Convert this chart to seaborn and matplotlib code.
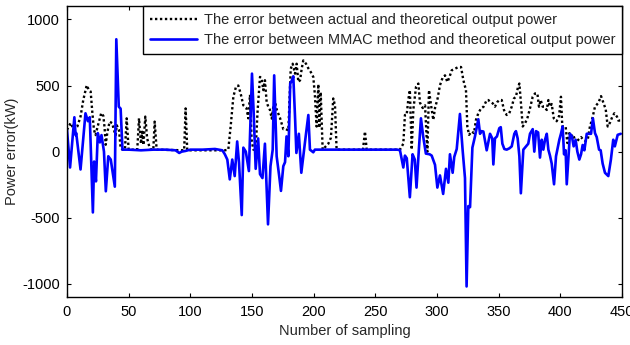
import matplotlib
matplotlib.use("Agg")
import matplotlib.pyplot as plt
import seaborn as sns
import numpy as np

# error between actual and theoretical output power (dotted black)
actual_x = [0, 3, 5.5, 8.4, 11, 13.2, 16, 17.8, 19.2, 20.6, 21.9, 23.2, 24.6, 25.9, 27.8,
            29.5, 30.5, 31.4, 32.8, 34.6, 36.7, 38, 39.5, 40.3, 42.2, 43.5, 45, 47, 48.4,
            50, 57, 58.4, 60, 61, 62, 63.5, 65, 66.7, 68, 70, 71.1, 72.7, 95, 96.2, 97.5,
            128, 130.8, 132.7, 134.9, 137, 138.9, 140.8, 143, 145.5, 147, 148.4, 149.7,
            151.1, 153, 154.5, 156.5, 157.8, 159.2, 160.5, 161.9, 163.2, 164.6, 166,
            167.3, 168.6, 170, 172.7, 175.4, 177.6, 179.5, 181.4, 183, 184.9, 186.2,
            187.6, 189, 190.3, 191.6, 193.8, 195.7, 197.8, 199.7, 201, 202.4, 203.8,
            204.6, 205.7, 207.3, 211.9, 214, 215.9, 217.3, 218.6, 240, 241.6, 243, 270,
            272.7, 274, 275.4, 276.7, 278, 279.5, 280.8, 283, 284.9, 286.2, 288.4, 290.3,
            292.2, 293.5, 294.9, 297, 298.4, 300.5, 302.4, 304.6, 306.5, 308.4, 310,
            311.9, 314.6, 317.3, 319.5, 321.4, 323.5, 324.6, 326, 328.1, 330, 331.6,
            333.5, 335.7, 337.8, 340.3, 341.6, 343.5, 345.2, 347, 348.9, 350.5, 352.5,
            354.3, 356.5, 358.6, 360.6, 362.4, 364, 365.4, 366.8, 367.8, 369.5, 371.4,
            373.2, 375.4, 377.6, 379.5, 381.4, 382.7, 384.1, 385.7, 386.9, 389, 390.3,
            391.6, 393, 394.7, 397, 399, 400.5, 401.6, 403, 404.3, 405.7, 407.3, 408.6,
            410.5, 412.4, 414.6, 416.8, 418.6, 420.5, 422.2, 424, 425.9, 428.1, 430.9,
            433, 434.9, 436.8, 438.4, 440.3, 442.2, 443.8, 445.9, 447, 448.5]
actual_y = [165, 217, 165, 190, 265, 390, 502, 465, 455, 292, 165, 125, 180, 225, 292,
            270, 180, 52, 150, 227, 215, 165, 125, 200, 165, 27, 15, 15, 252,
            15, 15, 252, 60, 150, 50, 265, 100, 40, 15, 15, 227, 15, 10, 327, 10,
            10, 15, 190, 415, 490, 500, 440, 350, 330, 252, 430, 90,
            15, 15, 300, 565, 555, 465, 540, 375, 340, 315, 250,
            340, 380, 320, 255, 170, 170, 160, 627, 665, 590, 665,
            527, 540, 627, 690, 665, 630, 600, 565, 430, 190, 510,
            180, 450, 15, 60, 105, 402, 350, 15, 15, 152, 15, 15,
            60, 277, 277, 390, 465, 15, 315, 490, 515, 370, 330, 350,
            0, 465, 370, 240, 330, 402, 502, 560, 577, 527, 560,
            615, 627, 640, 640, 540, 465, 190, 127, 152, 140, 240,
            290, 327, 340, 390, 390, 375, 365, 340, 375, 390, 390,
            315, 277, 290, 340, 402, 415, 477, 515, 400, 190, 215,
            250, 327, 415, 440, 440, 340, 390, 340, 340, 315, 390,
            340, 360, 252, 230, 270, 415, 190, 190, 190, 65, 140, 115,
            130, 65, 90, 110, 90, 80, 90, 190, 250, 340, 370,
            420, 370, 320, 190, 220, 265, 290, 265, 235, 235]

# error between MMAC method and theoretical output power (solid blue)
mmac_x = [0, 2.5, 6, 7, 7.5, 11, 15, 17, 18.5, 21, 22, 23.5, 25, 26.7, 28, 30, 31.5,
          33.5, 35.5, 38.8, 40, 42, 43.5, 45, 50, 60, 70, 80, 88, 91, 93, 96, 100, 110,
          120, 126, 128, 130, 132, 134, 136, 138, 139.5, 141.7, 143, 145, 147.5, 150,
          151.3, 153, 155, 156.5, 158.5, 160.5, 163, 165, 166.8, 168, 170, 172, 173.5,
          175.4, 176.8, 178, 179.5, 181, 182.4, 183.5, 185, 186, 188, 190, 191.6,
          193.8, 195.7, 197, 199.7, 201, 210, 230, 250, 268, 270, 272.7, 274, 275.5,
          278, 280.2, 282, 283.4, 285.4, 287, 288.8, 291, 294, 295.7, 298.4, 300.3,
          302.4, 305, 307.3, 309.2, 310.5, 312.7, 314, 316, 318.6, 320.8, 322.7, 324,
          325.4, 326.8, 328.7, 330.8, 333.5, 334.9, 336, 337.6, 340.3, 343, 344.8,
          345.7, 347, 348.6, 350.5, 351.7, 353, 354.6, 356.5, 358.7, 360.6, 362.7,
          364, 365.4, 366.8, 368, 370, 372.2, 374, 375.4, 377.6, 378.9, 380.3, 382,
          383.5, 384.9, 386.2, 387.6, 389, 390.3, 391.6, 393, 394.9, 396.5, 397.6,
          399.2, 400.5, 401.9, 403, 404.3, 405.2, 406.6, 407.8, 409.4, 410.8, 412.4,
          413.8, 415.4, 416.8, 418.1, 419.5, 421.4, 424.9, 426.4, 428.1, 429.5,
          431.4, 432.7, 434.3, 436.2, 438.9, 441, 442.9, 444.2, 446.5, 449]
mmac_y = [165, -120, 260, 125, 140, -135, 290, 230, 260, -460, -75, -225, 140, 70, 125, 0, -300,
          -35, -60, -265, 850, 340, 325, 15, 15, 10, 15, 15, 10, -10, 0, 5, 15, 15,
          20, 10, -20, -60, -210, -60, -185, 77, -85, -480, 30, 0, -147, 590,
          310, -130, 100, -170, -200, 60, -550, -110, 15, 577, -35, -180, -297,
          -110, -80, 115, -35, 515, 540, 570, 240, -10, 135, -160, -35,
          135, 277, 15, -5, 15, 15, 15, 15, 15, 10, -120, -30, -50,
          -345, -20, -60, -272, 30, 252, 115, -15, -20, -30, -100, -272,
          -180, -320, -130, -235, -20, -160, -40, 20, 285, 10, -200, -1020,
          -412, -420, 30, 115, 245, 135, 155, 152, 10, 135, 100,
          -97, 100, 115, 177, 185, 60, 20, 15, 25, 40, 135,
          155, 100, -35, -315, 15, 40, 60, 135, 170, 0, 155, 145,
          -45, 90, 15, 90, 135, 15, -30, -90, -247, -35, 15,
          90, 135, 190, -20, 10, -247, -35, 135, 115, 40, 90,
          0, -60, -20, 50, 10, 135, 135, 252, 140, 110,
          15, 10, -90, -160, -185, -60, 90, 40, 127, 135]

sns.set_style("ticks")
plt.rcParams['font.family'] = ['Liberation Sans', 'DejaVu Sans']
plt.rcParams['axes.unicode_minus'] = False
fs = 10.5

fig = plt.figure(figsize=(6.3, 3.45), dpi=100)
ax = fig.add_axes([0.1063, 0.139, 0.881, 0.843])

sns.lineplot(x=actual_x, y=actual_y, ax=ax, color="black", linestyle=(0, (1, 1.1)),
             linewidth=1.7, estimator=None,
             label="The error between actual and theoretical output power")
sns.lineplot(x=mmac_x, y=mmac_y, ax=ax, color="#0000FF", linestyle="-", linewidth=1.9,
             estimator=None,
             label="The error between MMAC method and theoretical output power")

ax.set_xlim(0, 450)
ax.set_ylim(-1100, 1100)
ax.set_xticks(np.arange(0, 451, 50))
ax.set_yticks([-1000, -500, 0, 500, 1000])
ax.set_xlabel("Number of sampling", fontsize=fs, labelpad=3)
ax.set_ylabel("Power error(kW)", fontsize=fs, labelpad=2)
ax.tick_params(direction="in", length=3, width=0.8, top=True, right=True,
               labelsize=fs, colors="black")
ax.tick_params(axis="x", pad=6)
ax.tick_params(axis="y", pad=5)
for s in ax.spines.values():
    s.set_visible(True)
    s.set_color("black")
    s.set_linewidth(1.0)

leg = ax.legend(loc="upper right", borderaxespad=0, fancybox=False, framealpha=1,
                edgecolor="black", fontsize=fs, handlelength=3.2, handletextpad=0.5,
                labelspacing=0.45, borderpad=0.45)
leg.get_frame().set_linewidth(1.0)

fig.savefig("out.png", dpi=100, facecolor="white")
